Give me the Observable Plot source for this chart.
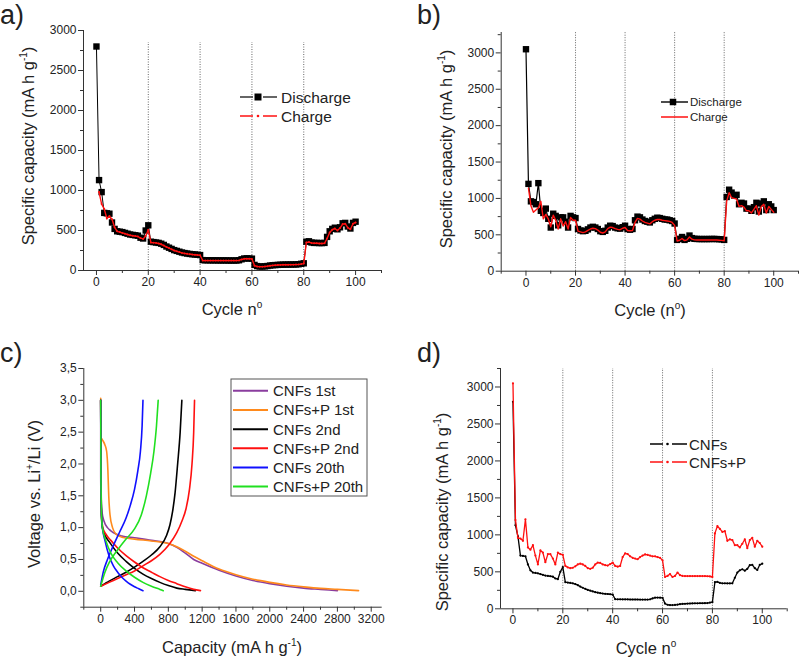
<!DOCTYPE html>
<html><head><meta charset="utf-8">
<script src="https://cdn.jsdelivr.net/npm/d3@7"></script>
<script src="https://cdn.jsdelivr.net/npm/@observablehq/plot@0.6"></script>
<style>
body{margin:0;background:#fff;}
#wrap{position:relative;width:800px;height:658px;background:#fff;overflow:hidden;}
.panel{position:absolute;}
.panel svg{overflow:visible;}
</style>
</head><body><div id="wrap"></div>
<script>
// ---------------- DATA ----------------
const cycles = d3.range(0, 101);
// panel a / d: CNFs
const cnfsDischarge = [2800,1130,980,720,715,710,600,520,490,485,480,470,460,450,445,440,435,410,400,500,
  565,360,355,350,345,335,320,300,285,270,255,245,235,225,218,212,207,203,200,197,
  193,130,128,128,127,127,127,126,126,126,126,125,125,125,125,128,140,150,152,150,
  148,70,55,50,50,52,56,62,66,68,70,72,73,74,74,75,75,76,78,84,
  90,360,365,350,345,345,343,343,345,420,490,520,535,515,540,590,595,550,525,595,610];
const cnfsCharge = [980,830,770,650,680,640,540,490,480,470,460,450,440,435,430,425,405,395,430,
  510,350,348,345,338,328,312,295,280,265,250,240,230,220,214,208,204,200,197,193,
  190,125,124,124,124,124,124,124,124,124,124,124,124,124,124,126,138,146,148,147,
  145,60,50,48,48,50,54,60,64,66,68,70,71,72,72,73,73,74,76,80,
  86,350,355,345,340,340,338,338,340,400,475,510,525,500,530,580,585,535,515,585,600];
// panel b / d: CNFs+P
const cnfsPDischarge = [3050,1200,960,950,920,1210,830,800,860,720,600,790,760,630,740,740,680,600,760,740,
  730,580,560,550,555,575,600,610,600,580,550,540,555,600,625,620,600,590,585,605,
  625,580,570,580,700,750,740,710,690,680,670,700,720,735,730,720,710,710,700,690,
  655,430,445,470,430,445,490,455,445,443,442,442,442,442,442,443,443,442,440,438,
  430,1020,1120,1080,1040,1050,920,940,930,860,860,830,880,940,820,930,960,840,920,890,840];
const cnfsPCharge = [1140,900,810,840,870,960,720,780,720,610,770,700,580,720,620,680,580,740,700,
  700,550,540,530,540,560,580,590,585,565,535,525,540,585,605,600,585,575,570,590,
  600,560,555,560,670,725,715,690,670,660,650,680,700,710,710,700,695,690,685,670,
  630,415,425,450,420,430,470,440,430,428,428,428,428,428,428,428,428,428,426,424,
  418,960,1080,1010,1000,990,890,900,880,830,830,800,850,900,770,890,920,800,890,850,810];

// panel c: voltage profiles (capacity mA h g-1, voltage V)
const curveNames = ["CNFs 1st","CNFs+P 1st","CNFs 2nd","CNFs+P 2nd","CNFs 20th","CNFs+P 20th"];
const c1DisCap = [0,0,5,15,40,80,120,180,250,400,600,800,900,1000,1100,1200,1400,1600,1800,2000,2200,2400,2600,2800];
const c1DisV   = [3.0,1.8,1.4,1.25,1.1,1.0,0.95,0.9,0.87,0.84,0.8,0.75,0.69,0.6,0.5,0.44,0.33,0.24,0.17,0.12,0.08,0.05,0.03,0.01];
const c2DisCap = [0,3,20,50,70,85,95,110,140,180,250,400,600,800,900,1000,1100,1200,1400,1600,1800,2000,2200,2400,2600,2800,3050];
const c2DisV   = [3.03,2.42,2.38,2.3,2.2,1.9,1.5,1.2,1.0,0.9,0.85,0.82,0.79,0.75,0.7,0.63,0.55,0.48,0.35,0.26,0.19,0.14,0.1,0.07,0.045,0.03,0.01];
const c3DisCap = [0,3,8,20,50,100,200,300,400,500,600,700,800,900,1000,1120];
const c3DisV   = [3.0,2.0,1.2,1.0,0.88,0.78,0.6,0.47,0.36,0.27,0.2,0.14,0.09,0.05,0.03,0.01];
const c3ChCap  = [0,50,100,200,300,400,500,600,700,780,820,850,880,910,940,960];
const c3ChV    = [0.08,0.12,0.16,0.23,0.3,0.38,0.47,0.57,0.7,0.88,1.05,1.25,1.55,2.0,2.5,3.0];
const c4DisCap = [0,3,10,25,60,120,200,300,400,500,600,700,800,900,1000,1100,1180];
const c4DisV   = [3.0,2.0,1.2,1.0,0.9,0.8,0.68,0.56,0.46,0.37,0.3,0.23,0.17,0.12,0.07,0.03,0.01];
const c4ChCap  = [0,100,200,300,400,500,600,700,800,900,960,1010,1050,1080,1100,1110];
const c4ChV    = [0.08,0.14,0.2,0.26,0.32,0.4,0.48,0.58,0.72,0.92,1.1,1.3,1.6,2.0,2.5,3.0];
const c5DisCap = [0,3,10,20,50,100,150,200,250,300,350,400,450,500];
const c5DisV   = [3.0,1.8,1.2,1.0,0.8,0.55,0.4,0.3,0.22,0.16,0.11,0.07,0.04,0.01];
const c5ChCap  = [0,30,80,150,220,300,350,400,440,470,490,500];
const c5ChV    = [0.1,0.3,0.5,0.72,0.92,1.15,1.35,1.6,1.9,2.2,2.6,3.0];
const c6DisCap = [0,3,10,20,60,120,200,300,400,500,600,700,740];
const c6DisV   = [3.0,1.8,1.2,1.0,0.8,0.6,0.45,0.32,0.22,0.14,0.08,0.03,0.01];
const c6ChCap  = [0,50,100,200,300,400,480,540,590,630,660,680];
const c6ChV    = [0.08,0.3,0.45,0.65,0.82,0.98,1.2,1.5,1.85,2.2,2.6,3.0];

// ticks
const cycleTicks = [0,20,40,60,80,100];
const cycleMinor = [-10,10,30,50,70,90,110];
const capTicks = [0,500,1000,1500,2000,2500,3000];
const capMinor = [250,750,1250,1750,2250,2750,3250];
const voltTicks = [0,0.5,1,1.5,2,2.5,3,3.5];
const voltMinor = [-0.25,0.25,0.75,1.25,1.75,2.25,2.75,3.25];
const profCapTicks = [0,400,800,1200,1600,2000,2400,2800,3200];
const profCapMinor = [-200,200,600,1000,1400,1800,2200,2600,3000];
const rateSteps = [20,40,60,80];

// ---------------- STYLE ----------------
const FONT = "Liberation Sans, Arial, sans-serif";
const TXT = "#222";
const AX = "#333";
const curveColors = ["#8a3d9e","#ff8a1c","#000000","#ff1010","#1010ff","#20e020"];

// ---------------- TABLES ----------------
const tA_dis = cycles.map((c,i)=>({c, v: cnfsDischarge[i]}));
const tA_ch = cnfsCharge.map((v,i)=>({c: i+1, v}));
const tB_dis = cycles.map((c,i)=>({c, v: cnfsPDischarge[i]}));
const tB_ch = cnfsPCharge.map((v,i)=>({c: i+1, v}));
const profiles = [];
const addSeg = (k, key, caps, vs) => caps.forEach((cap,i)=>profiles.push({name: curveNames[k], seg: key, cap, v: vs[i]}));
addSeg(0,"1d",c1DisCap,c1DisV);
addSeg(1,"2d",c2DisCap,c2DisV);
addSeg(2,"3d",c3DisCap,c3DisV); addSeg(2,"3c",c3ChCap,c3ChV);
addSeg(3,"4d",c4DisCap,c4DisV); addSeg(3,"4c",c4ChCap,c4ChV);
addSeg(4,"5d",c5DisCap,c5DisV); addSeg(4,"5c",c5ChCap,c5ChV);
addSeg(5,"6d",c6DisCap,c6DisV); addSeg(5,"6c",c6ChCap,c6ChV);

// ---------------- HELPERS ----------------
const within = (arr, dom) => arr.filter(t => t >= dom[0] && t <= dom[1]);
function axes(xDom, yDom, xT, xM, yT, yM, fx, fy) {
  return [
    Plot.axisX({ticks: within(xT, xDom), tickSize: 5, tickPadding: 2, tickFormat: fx, label: null, stroke: AX, fill: TXT, fontSize: 12}),
    Plot.axisX({ticks: within(xM, xDom), tickSize: 3, label: null, stroke: AX, fill: "none"}),
    Plot.axisY({ticks: within(yT, yDom), tickSize: 5, tickPadding: 2, tickFormat: fy, label: null, stroke: AX, fill: TXT, fontSize: 12}),
    Plot.axisY({ticks: within(yM, yDom), tickSize: 3, label: null, stroke: AX, fill: "none"})
  ];
}
function place(svg, left, top) {
  const d = document.createElement("div");
  d.className = "panel"; d.style.left = left + "px"; d.style.top = top + "px";
  d.appendChild(svg); document.getElementById("wrap").appendChild(d);
  return svg;
}
function addText(svg, {x, y, rotate = 0, size, anchor = "middle", parts}) {
  const t = d3.select(svg).append("text")
    .attr("transform", `translate(${x},${y}) rotate(${rotate})`)
    .attr("text-anchor", anchor).attr("font-family", FONT)
    .attr("font-size", size).attr("fill", TXT);
  parts.forEach(p => {
    if (typeof p === "string") t.append("tspan").text(p);
    else { const s = t.append("tspan").attr("dy", p.dy).text(p.text); if (p.size) s.attr("font-size", p.size); }
  });
}
function legLine(svg, x1, x2, y, color, w) {
  d3.select(svg).append("line").attr("x1", x1).attr("x2", x2).attr("y1", y).attr("y2", y)
    .attr("stroke", color).attr("stroke-width", w);
}
function legSquare(svg, x, y, s) {
  d3.select(svg).append("rect").attr("x", x - s/2).attr("y", y - s/2).attr("width", s).attr("height", s).attr("fill", "#000");
}
function legDot(svg, x, y, r, c) {
  d3.select(svg).append("circle").attr("cx", x).attr("cy", y).attr("r", r).attr("fill", c);
}
const fmtInt = d => String(d);
const fmtComma = d => d.toFixed(1).replace(".", ",");
const sup = (t) => ({text: t, dy: -7, size: 10});
const SPEC = ["Specific capacity (mA h g", sup("-1"), {text: ")", dy: 7}];
const baseStyle = {fontFamily: FONT, background: "transparent", color: TXT};

// ---------------- PANEL A ----------------
{
  const xd = [-5, 110], yd = [0, 3000];
  const svg = Plot.plot({
    width: 400, height: 329, marginLeft: 83, marginRight: 19, marginTop: 30, marginBottom: 59,
    x: {domain: xd}, y: {domain: yd}, style: baseStyle,
    marks: [
      ...axes(xd, yd, cycleTicks, cycleMinor, capTicks, capMinor, fmtInt, fmtInt),
      Plot.ruleX(rateSteps, {y1: 0, y2: 2850, stroke: "#666", strokeDasharray: "1,1.5", strokeWidth: 1}),
      Plot.ruleY([0], {stroke: AX}), Plot.ruleX([-5], {stroke: AX}),
      Plot.line(tA_dis, {x: "c", y: "v", stroke: "#000", strokeWidth: 1}),
      Plot.dot(tA_dis, {x: "c", y: "v", symbol: "square", r: 3.6, fill: "#000", stroke: "none"}),
      Plot.line(tA_ch, {x: "c", y: "v", stroke: "#ff1010", strokeWidth: 1.4}),
      Plot.dot(tA_ch, {x: "c", y: "v", r: 1, fill: "#ff1010", stroke: "none"})
    ]
  });
  place(svg, 0, 0);
  addText(svg, {x: 0, y: 24, size: 27, anchor: "start", parts: ["a)"]});
  addText(svg, {x: 34, y: 146, rotate: -90, size: 16.5, parts: SPEC});
  addText(svg, {x: 232, y: 315, size: 16.5, parts: ["Cycle n", sup("o")]});
  legLine(svg, 240, 253, 97, "#333", 1.5); legLine(svg, 263, 277, 97, "#333", 1.5); legSquare(svg, 258, 97, 7);
  legLine(svg, 240, 253, 116, "#ff1010", 1.5); legLine(svg, 263, 277, 116, "#ff1010", 1.5); legDot(svg, 258, 116, 1.3, "#ff1010");
  addText(svg, {x: 281, y: 102.5, size: 15.5, anchor: "start", parts: ["Discharge"]});
  addText(svg, {x: 281, y: 121.5, size: 15.5, anchor: "start", parts: ["Charge"]});
}

// ---------------- PANEL B ----------------
{
  const xd = [-10, 110], yd = [0, 3280];
  const svg = Plot.plot({
    width: 400, height: 329, marginLeft: 100.7, marginRight: 2, marginTop: 32, marginBottom: 58.3,
    x: {domain: xd}, y: {domain: yd}, style: baseStyle,
    marks: [
      ...axes(xd, yd, cycleTicks, cycleMinor, capTicks, capMinor, fmtInt, fmtInt),
      Plot.ruleX(rateSteps, {y1: 0, y2: 3280, stroke: "#666", strokeDasharray: "1,1.5", strokeWidth: 1}),
      Plot.ruleY([0], {stroke: AX}), Plot.ruleX([-10], {stroke: AX}),
      Plot.line(tB_dis, {x: "c", y: "v", stroke: "#000", strokeWidth: 1.2}),
      Plot.dot(tB_dis, {x: "c", y: "v", symbol: "square", r: 3.6, fill: "#000", stroke: "none"}),
      Plot.line(tB_ch, {x: "c", y: "v", stroke: "#ff1010", strokeWidth: 1.4})
    ]
  });
  place(svg, 400, 0);
  addText(svg, {x: 17, y: 24, size: 27, anchor: "start", parts: ["b)"]});
  addText(svg, {x: 52, y: 149, rotate: -90, size: 16.5, parts: SPEC});
  addText(svg, {x: 250, y: 316, size: 16.5, parts: ["Cycle (n", sup("o"), {text: ")", dy: 7}]});
  legLine(svg, 261, 288, 102, "#111", 1.5); legSquare(svg, 273, 102, 6.5);
  legLine(svg, 261, 288, 117, "#ff1010", 1.5);
  addText(svg, {x: 290, y: 106, size: 11.5, anchor: "start", parts: ["Discharge"]});
  addText(svg, {x: 290, y: 121, size: 11.5, anchor: "start", parts: ["Charge"]});
}

// ---------------- PANEL C ----------------
{
  const xd = [-200, 3330], yd = [-0.25, 3.5];
  const svg = Plot.plot({
    width: 400, height: 329, marginLeft: 83.3, marginRight: 18.3, marginTop: 39, marginBottom: 51.3,
    x: {domain: xd}, y: {domain: yd},
    color: {domain: curveNames, range: curveColors}, style: baseStyle,
    marks: [
      ...axes(xd, yd, profCapTicks, profCapMinor, voltTicks, voltMinor, fmtInt, fmtComma),
      Plot.ruleY([-0.25], {stroke: AX}), Plot.ruleX([-200], {stroke: AX}),
      Plot.line(profiles, {x: "cap", y: "v", z: "seg", stroke: "name", strokeWidth: 1.6, curve: "monotone-x"})
    ]
  });
  place(svg, 0, 329);
  addText(svg, {x: 0, y: 33, size: 27, anchor: "start", parts: ["c)"]});
  addText(svg, {x: 40, y: 165, rotate: -90, size: 16.5, parts: ["Voltage vs. Li", sup("+"), {text: "/Li (V)", dy: 7}]});
  addText(svg, {x: 232, y: 324, size: 16.5, parts: ["Capacity (mA h g", sup("-1"), {text: ")", dy: 7}]});
  d3.select(svg).append("rect").attr("x", 231).attr("y", 50).attr("width", 136).attr("height", 117)
    .attr("fill", "#fff").attr("stroke", "#555").attr("stroke-width", 1);
  const rows = [61.7, 81, 100.3, 119.3, 138.5, 157.5];
  curveNames.forEach((n, i) => {
    legLine(svg, 233, 268, rows[i], curveColors[i], 2);
    addText(svg, {x: 273, y: rows[i] + 5.3, size: 15, anchor: "start", parts: [n]});
  });
}

// ---------------- PANEL D ----------------
{
  const xd = [-5, 110], yd = [0, 3250];
  const svg = Plot.plot({
    width: 400, height: 329, marginLeft: 100, marginRight: 13.3, marginTop: 39, marginBottom: 49.7,
    x: {domain: xd}, y: {domain: yd}, style: baseStyle,
    marks: [
      ...axes(xd, yd, cycleTicks, cycleMinor, capTicks, capMinor, fmtInt, fmtInt),
      Plot.ruleX(rateSteps, {y1: 0, y2: 3250, stroke: "#666", strokeDasharray: "1,1.5", strokeWidth: 1}),
      Plot.ruleY([0], {stroke: AX}), Plot.ruleX([-5], {stroke: AX}),
      Plot.line(tA_dis, {x: "c", y: "v", stroke: "#000", strokeWidth: 1.3}),
      Plot.dot(tA_dis, {x: "c", y: "v", r: 1.1, fill: "#000", stroke: "none"}),
      Plot.line(tB_dis, {x: "c", y: "v", stroke: "#ff1010", strokeWidth: 1.3}),
      Plot.dot(tB_dis, {x: "c", y: "v", r: 1.1, fill: "#ff1010", stroke: "none"})
    ]
  });
  place(svg, 400, 329);
  addText(svg, {x: 17, y: 33, size: 27, anchor: "start", parts: ["d)"]});
  addText(svg, {x: 48, y: 183, rotate: -90, size: 16.5, parts: SPEC});
  addText(svg, {x: 246, y: 325, size: 16.5, parts: ["Cycle n", sup("o")]});
  legLine(svg, 250, 263, 115, "#000", 1.5); legLine(svg, 272, 287, 115, "#000", 1.5); legDot(svg, 267.5, 115, 1.3, "#000");
  legLine(svg, 250, 263, 133, "#ff1010", 1.5); legLine(svg, 272, 287, 133, "#ff1010", 1.5); legDot(svg, 267.5, 133, 1.3, "#ff1010");
  addText(svg, {x: 289, y: 120.5, size: 15, anchor: "start", parts: ["CNFs"]});
  addText(svg, {x: 289, y: 138.5, size: 15, anchor: "start", parts: ["CNFs+P"]});
}
</script>
</body></html>
